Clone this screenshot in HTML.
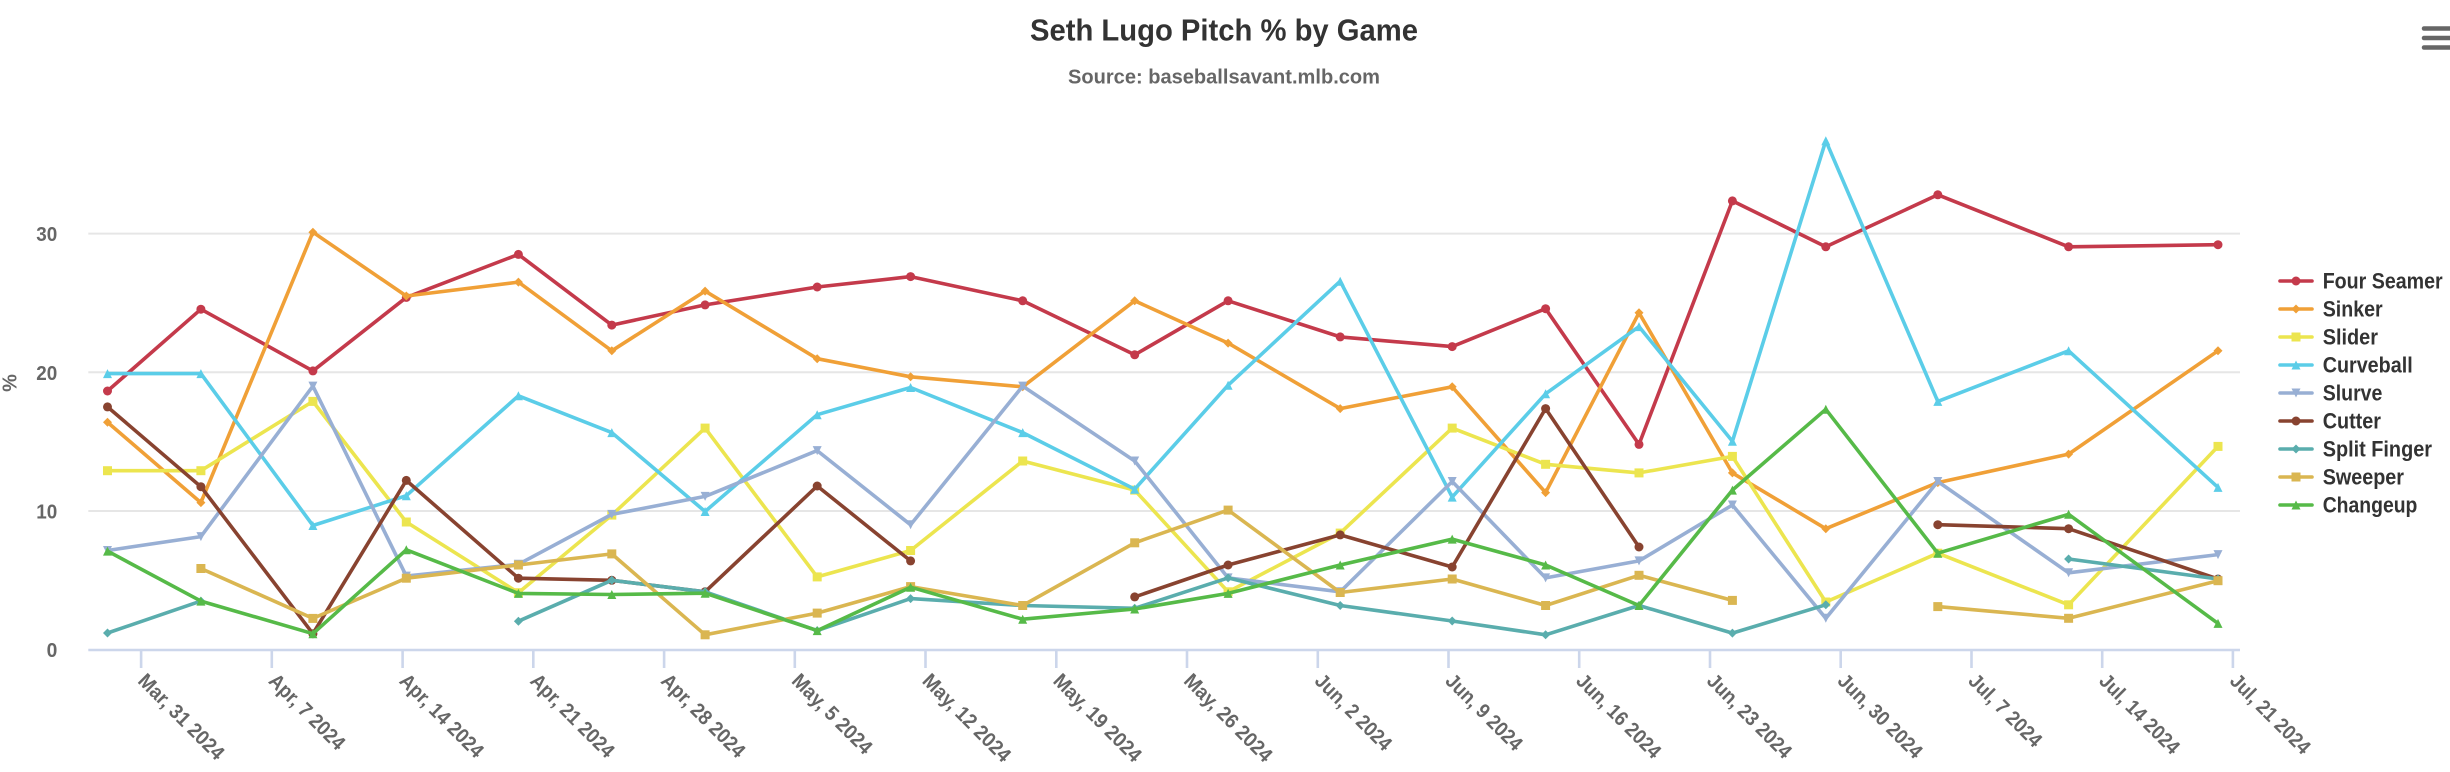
<!DOCTYPE html>
<html>
<head>
<meta charset="utf-8">
<style>
html,body{margin:0;padding:0;background:#ffffff;}
svg{display:block;}
text{font-family:"Liberation Sans Narrow","Liberation Sans",sans-serif;font-weight:bold;}
.s{fill:none;stroke-width:3.6;stroke-linejoin:round;stroke-linecap:round;}
</style>
</head>
<body>
<svg width="2450" height="772" viewBox="0 0 2450 772" xmlns="http://www.w3.org/2000/svg">
<defs>
<marker id="mFF" markerUnits="userSpaceOnUse" markerWidth="12" markerHeight="12" refX="6" refY="6" overflow="visible"><circle cx="6" cy="6" r="4.5" fill="#c43a4b"/></marker>
<marker id="mSI" markerUnits="userSpaceOnUse" markerWidth="12" markerHeight="12" refX="6" refY="6" overflow="visible"><path d="M6 1.5 L10.5 6 L6 10.5 L1.5 6 Z" fill="#f0a037"/></marker>
<marker id="mSL" markerUnits="userSpaceOnUse" markerWidth="12" markerHeight="12" refX="6" refY="6" overflow="visible"><rect x="1.5" y="1.5" width="9" height="9" fill="#ece54f"/></marker>
<marker id="mCU" markerUnits="userSpaceOnUse" markerWidth="12" markerHeight="12" refX="6" refY="6" overflow="visible"><path d="M6 1.5 L10.5 10.5 L1.5 10.5 Z" fill="#5bcde8"/></marker>
<marker id="mSV" markerUnits="userSpaceOnUse" markerWidth="12" markerHeight="12" refX="6" refY="6" overflow="visible"><path d="M1.5 1.5 L10.5 1.5 L6 10.5 Z" fill="#98afd4"/></marker>
<marker id="mFC" markerUnits="userSpaceOnUse" markerWidth="12" markerHeight="12" refX="6" refY="6" overflow="visible"><circle cx="6" cy="6" r="4.5" fill="#884330"/></marker>
<marker id="mFS" markerUnits="userSpaceOnUse" markerWidth="12" markerHeight="12" refX="6" refY="6" overflow="visible"><path d="M6 1.5 L10.5 6 L6 10.5 L1.5 6 Z" fill="#5aadad"/></marker>
<marker id="mST" markerUnits="userSpaceOnUse" markerWidth="12" markerHeight="12" refX="6" refY="6" overflow="visible"><rect x="1.5" y="1.5" width="9" height="9" fill="#dab651"/></marker>
<marker id="mCH" markerUnits="userSpaceOnUse" markerWidth="12" markerHeight="12" refX="6" refY="6" overflow="visible"><path d="M6 1.5 L10.5 10.5 L1.5 10.5 Z" fill="#56ba48"/></marker>
</defs>

<!-- Title -->
<text x="1224" y="40.7" text-anchor="middle" font-size="30.5" fill="#333333" textLength="388" lengthAdjust="spacingAndGlyphs">Seth Lugo Pitch % by Game</text>
<text x="1224" y="83.3" text-anchor="middle" font-size="20.5" fill="#666666" textLength="312" lengthAdjust="spacingAndGlyphs">Source: baseballsavant.mlb.com</text>

<!-- Hamburger -->
<g stroke="#666666" stroke-width="4.5" stroke-linecap="round">
<line x1="2424" y1="28.5" x2="2462" y2="28.5"/>
<line x1="2424" y1="38" x2="2462" y2="38"/>
<line x1="2424" y1="47.5" x2="2462" y2="47.5"/>
</g>

<!-- Grid -->
<g stroke="#e6e6e6" stroke-width="2">
<line x1="88.3" y1="233.6" x2="2240" y2="233.6"/>
<line x1="88.3" y1="372.3" x2="2240" y2="372.3"/>
<line x1="88.3" y1="511.0" x2="2240" y2="511.0"/>
</g>
<!-- X axis -->
<line x1="88.3" y1="650" x2="2240" y2="650" stroke="#ccd6eb" stroke-width="2.6"/>
<g stroke="#ccd6eb" stroke-width="2.6">
<line x1="141.1" y1="650" x2="141.1" y2="668"/>
<line x1="271.8" y1="650" x2="271.8" y2="668"/>
<line x1="402.6" y1="650" x2="402.6" y2="668"/>
<line x1="533.3" y1="650" x2="533.3" y2="668"/>
<line x1="664.1" y1="650" x2="664.1" y2="668"/>
<line x1="794.8" y1="650" x2="794.8" y2="668"/>
<line x1="925.5" y1="650" x2="925.5" y2="668"/>
<line x1="1056.3" y1="650" x2="1056.3" y2="668"/>
<line x1="1187.0" y1="650" x2="1187.0" y2="668"/>
<line x1="1317.8" y1="650" x2="1317.8" y2="668"/>
<line x1="1448.5" y1="650" x2="1448.5" y2="668"/>
<line x1="1579.2" y1="650" x2="1579.2" y2="668"/>
<line x1="1710.0" y1="650" x2="1710.0" y2="668"/>
<line x1="1840.7" y1="650" x2="1840.7" y2="668"/>
<line x1="1971.5" y1="650" x2="1971.5" y2="668"/>
<line x1="2102.2" y1="650" x2="2102.2" y2="668"/>
<line x1="2232.9" y1="650" x2="2232.9" y2="668"/>
</g>

<!-- Y labels -->
<g font-size="20" fill="#666666" text-anchor="end">
<text x="57.3" y="241.1" textLength="21" lengthAdjust="spacingAndGlyphs">30</text>
<text x="57.3" y="379.8" textLength="21" lengthAdjust="spacingAndGlyphs">20</text>
<text x="57.3" y="518.5" textLength="21" lengthAdjust="spacingAndGlyphs">10</text>
<text x="57.3" y="657.1" textLength="10.7" lengthAdjust="spacingAndGlyphs">0</text>
</g>
<text transform="translate(16.5,383) rotate(-90)" text-anchor="middle" font-size="20" fill="#666666">%</text>

<!-- X labels -->
<g font-size="20.5" fill="#666666">
<text transform="translate(136.9,682) rotate(45)" textLength="112" lengthAdjust="spacingAndGlyphs">Mar, 31 2024</text>
<text transform="translate(267.6,682) rotate(45)" textLength="98" lengthAdjust="spacingAndGlyphs">Apr, 7 2024</text>
<text transform="translate(398.4,682) rotate(45)" textLength="109" lengthAdjust="spacingAndGlyphs">Apr, 14 2024</text>
<text transform="translate(529.1,682) rotate(45)" textLength="109" lengthAdjust="spacingAndGlyphs">Apr, 21 2024</text>
<text transform="translate(659.9,682) rotate(45)" textLength="109" lengthAdjust="spacingAndGlyphs">Apr, 28 2024</text>
<text transform="translate(790.6,682) rotate(45)" textLength="104" lengthAdjust="spacingAndGlyphs">May, 5 2024</text>
<text transform="translate(921.3,682) rotate(45)" textLength="115" lengthAdjust="spacingAndGlyphs">May, 12 2024</text>
<text transform="translate(1052.1,682) rotate(45)" textLength="115" lengthAdjust="spacingAndGlyphs">May, 19 2024</text>
<text transform="translate(1182.8,682) rotate(45)" textLength="115" lengthAdjust="spacingAndGlyphs">May, 26 2024</text>
<text transform="translate(1313.6,682) rotate(45)" textLength="99" lengthAdjust="spacingAndGlyphs">Jun, 2 2024</text>
<text transform="translate(1444.3,682) rotate(45)" textLength="99" lengthAdjust="spacingAndGlyphs">Jun, 9 2024</text>
<text transform="translate(1575.0,682) rotate(45)" textLength="110" lengthAdjust="spacingAndGlyphs">Jun, 16 2024</text>
<text transform="translate(1705.8,682) rotate(45)" textLength="110" lengthAdjust="spacingAndGlyphs">Jun, 23 2024</text>
<text transform="translate(1836.5,682) rotate(45)" textLength="110" lengthAdjust="spacingAndGlyphs">Jun, 30 2024</text>
<text transform="translate(1967.3,682) rotate(45)" textLength="94" lengthAdjust="spacingAndGlyphs">Jul, 7 2024</text>
<text transform="translate(2098.0,682) rotate(45)" textLength="104" lengthAdjust="spacingAndGlyphs">Jul, 14 2024</text>
<text transform="translate(2228.7,682) rotate(45)" textLength="104" lengthAdjust="spacingAndGlyphs">Jul, 21 2024</text>
</g>

<!-- Series -->
<polyline class="s" stroke="#c43a4b" marker-start="url(#mFF)" marker-mid="url(#mFF)" marker-end="url(#mFF)" points="107.5,391.0 200.9,309.2 312.9,370.9 406.3,297.4 518.4,254.4 611.8,325.1 705.1,304.9 817.2,287.0 910.6,276.6 1022.7,300.8 1134.7,354.8 1228.1,300.8 1340.2,336.9 1452.2,346.6 1545.6,308.7 1639.0,444.4 1732.4,200.9 1825.8,246.8 1937.8,194.8 2068.6,246.8 2218.0,244.7"/>

<polyline class="s" stroke="#f0a037" marker-start="url(#mSI)" marker-mid="url(#mSI)" marker-end="url(#mSI)" points="107.5,422.2 200.9,502.6 312.9,232.2 406.3,296.0 518.4,282.1 611.8,350.8 705.1,291.1 817.2,358.7 910.6,376.8 1022.7,386.8 1134.7,300.8 1228.1,343.1 1340.2,408.6 1452.2,386.8 1545.6,492.6 1639.0,312.8 1732.4,472.9 1825.8,528.7 1937.8,482.6 2068.6,454.1 2218.0,350.8"/>

<polyline class="s" stroke="#ece54f" marker-start="url(#mSL)" marker-mid="url(#mSL)" marker-end="url(#mSL)" points="107.5,470.7 200.9,470.7 312.9,401.4 406.3,522.0 518.4,592.7 611.8,515.1 705.1,428.1 817.2,576.9 910.6,550.5 1022.7,461.0 1134.7,490.1 1228.1,591.8 1340.2,533.1 1452.2,428.1 1545.6,464.3 1639.0,472.9 1732.4,456.4 1825.8,602.0 1937.8,553.2 2068.6,604.8 2218.0,446.4"/>

<polyline class="s" stroke="#5bcde8" marker-start="url(#mCU)" marker-mid="url(#mCU)" marker-end="url(#mCU)" points="107.5,373.6 200.9,373.6 312.9,525.5 406.3,495.7 518.4,395.8 611.8,432.6 705.1,511.5 817.2,414.7 910.6,387.5 1022.7,432.6 1134.7,489.2 1228.1,385.2 1340.2,281.2 1452.2,497.1 1545.6,393.8 1639.0,326.6 1732.4,441.3 1825.8,140.7 1937.8,401.4 2068.6,350.8 2218.0,487.4"/>

<polyline class="s" stroke="#98afd4" marker-start="url(#mSV)" marker-mid="url(#mSV)" marker-end="url(#mSV)" points="107.5,550.5 200.9,536.6 312.9,386.1 406.3,576.1 518.4,564.3 611.8,514.4 705.1,496.4 817.2,450.6 910.6,524.8 1022.7,386.1 1134.7,461.0 1228.1,577.9 1340.2,591.8 1452.2,481.5 1545.6,577.9 1639.0,560.9 1732.4,505.0 1825.8,618.3 1937.8,481.5 2068.6,572.8 2218.0,554.6"/>

<polyline class="s" stroke="#884330" marker-start="url(#mFC)" marker-mid="url(#mFC)" marker-end="url(#mFC)" points="107.5,406.9 200.9,486.7 312.9,633.7 406.3,480.4 518.4,578.2 611.8,580.3 705.1,591.8 817.2,486.0 910.6,560.9"/>
<polyline class="s" stroke="#884330" marker-start="url(#mFC)" marker-mid="url(#mFC)" marker-end="url(#mFC)" points="1134.7,596.9 1228.1,565.0 1340.2,534.9 1452.2,567.0 1545.6,408.6 1639.0,547.0"/>
<polyline class="s" stroke="#884330" marker-start="url(#mFC)" marker-mid="url(#mFC)" marker-end="url(#mFC)" points="1937.8,524.7 2068.6,528.7 2218.0,579.0"/>

<polyline class="s" stroke="#5aadad" marker-start="url(#mFS)" marker-mid="url(#mFS)" marker-end="url(#mFS)" points="107.5,633.0 200.9,601.1"/>
<polyline class="s" stroke="#5aadad" marker-start="url(#mFS)" marker-mid="url(#mFS)" marker-end="url(#mFS)" points="518.4,621.2 611.8,580.3 705.1,591.8 817.2,630.6 910.6,598.6 1022.7,605.5 1134.7,608.3 1228.1,577.9 1340.2,605.5 1452.2,621.0 1545.6,634.8 1639.0,605.5 1732.4,633.1 1825.8,604.8"/>
<polyline class="s" stroke="#5aadad" marker-start="url(#mFS)" marker-mid="url(#mFS)" marker-end="url(#mFS)" points="2068.6,559.0 2218.0,579.0"/>

<polyline class="s" stroke="#dab651" marker-start="url(#mST)" marker-mid="url(#mST)" marker-end="url(#mST)" points="200.9,568.5 312.9,618.4 406.3,578.2 518.4,565.0 611.8,553.9 705.1,634.8 817.2,613.1 910.6,586.6 1022.7,605.5 1134.7,542.8 1228.1,510.1 1340.2,592.5 1452.2,579.0 1545.6,605.5 1639.0,575.3 1732.4,600.4"/>
<polyline class="s" stroke="#dab651" marker-start="url(#mST)" marker-mid="url(#mST)" marker-end="url(#mST)" points="1937.8,606.6 2068.6,618.3 2218.0,580.7"/>

<polyline class="s" stroke="#56ba48" marker-start="url(#mCH)" marker-mid="url(#mCH)" marker-end="url(#mCH)" points="107.5,551.1 200.9,601.1 312.9,633.7 406.3,549.8 518.4,593.4 611.8,594.5 705.1,593.2 817.2,630.6 910.6,587.2 1022.7,619.2 1134.7,609.0 1228.1,593.4 1340.2,565.0 1452.2,539.1 1545.6,565.0 1639.0,605.5 1732.4,490.1 1825.8,409.3 1937.8,553.2 2068.6,514.3 2218.0,623.4"/>

<!-- Legend -->
<g class="s">
<polyline class="s" stroke="#c43a4b" marker-mid="url(#mFF)" points="2280,281 2296,281 2312,281"/>
<polyline class="s" stroke="#f0a037" marker-mid="url(#mSI)" points="2280,309 2296,309 2312,309"/>
<polyline class="s" stroke="#ece54f" marker-mid="url(#mSL)" points="2280,337 2296,337 2312,337"/>
<polyline class="s" stroke="#5bcde8" marker-mid="url(#mCU)" points="2280,365 2296,365 2312,365"/>
<polyline class="s" stroke="#98afd4" marker-mid="url(#mSV)" points="2280,393 2296,393 2312,393"/>
<polyline class="s" stroke="#884330" marker-mid="url(#mFC)" points="2280,421 2296,421 2312,421"/>
<polyline class="s" stroke="#5aadad" marker-mid="url(#mFS)" points="2280,449 2296,449 2312,449"/>
<polyline class="s" stroke="#dab651" marker-mid="url(#mST)" points="2280,477 2296,477 2312,477"/>
<polyline class="s" stroke="#56ba48" marker-mid="url(#mCH)" points="2280,505 2296,505 2312,505"/>
</g>
<g font-size="22" fill="#333333">
<text x="2322.7" y="288.7" textLength="120" lengthAdjust="spacingAndGlyphs">Four Seamer</text>
<text x="2322.7" y="316.7" textLength="60" lengthAdjust="spacingAndGlyphs">Sinker</text>
<text x="2322.7" y="344.7" textLength="55.3" lengthAdjust="spacingAndGlyphs">Slider</text>
<text x="2322.7" y="372.7" textLength="90" lengthAdjust="spacingAndGlyphs">Curveball</text>
<text x="2322.7" y="400.7" textLength="59.7" lengthAdjust="spacingAndGlyphs">Slurve</text>
<text x="2322.7" y="428.7" textLength="58.3" lengthAdjust="spacingAndGlyphs">Cutter</text>
<text x="2322.7" y="456.7" textLength="109.3" lengthAdjust="spacingAndGlyphs">Split Finger</text>
<text x="2322.7" y="484.7" textLength="81.3" lengthAdjust="spacingAndGlyphs">Sweeper</text>
<text x="2322.7" y="512.7" textLength="94.7" lengthAdjust="spacingAndGlyphs">Changeup</text>
</g>
</svg>
</body>
</html>
